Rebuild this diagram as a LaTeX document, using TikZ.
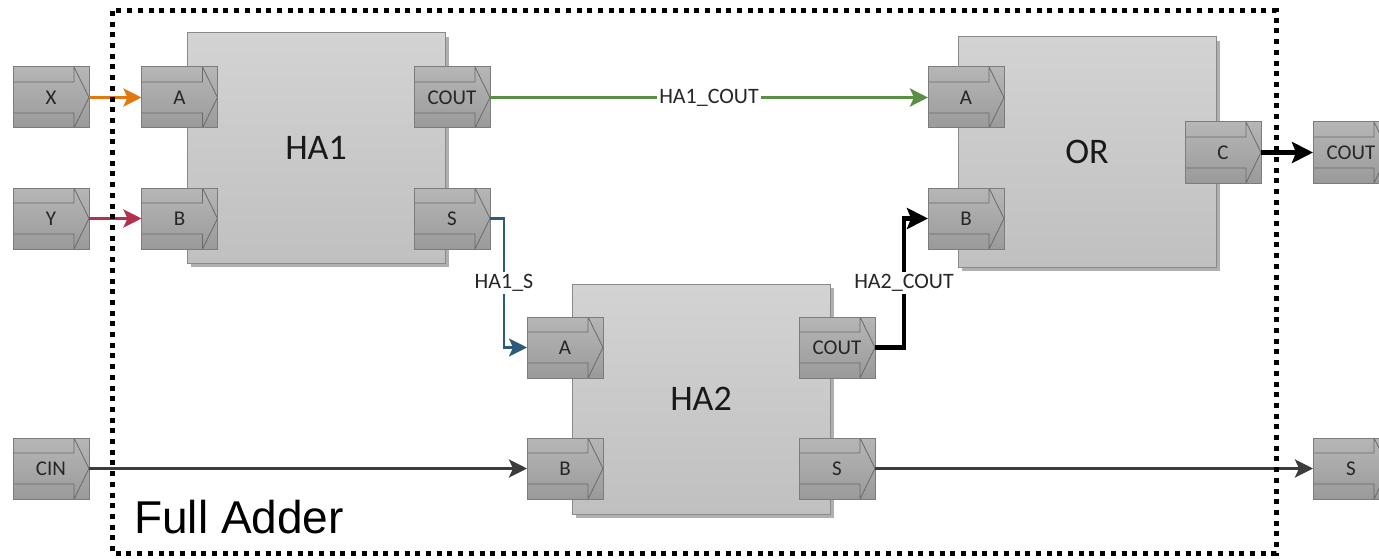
\documentclass[tikz,border=0pt]{standalone}
\usepackage{fontspec}
\setmainfont{Carlito}
\newfontfamily\arialf{Liberation Sans}
\usetikzlibrary{arrows.meta,shadows,calc}
\definecolor{wireorange}{HTML}{E07A10}
\definecolor{wirecrimson}{HTML}{B5304F}
\definecolor{wiregreen}{HTML}{5A8F45}
\definecolor{wireblue}{HTML}{2E5B7A}
\definecolor{wiregrey}{HTML}{3C3C3C}
\definecolor{blocktop}{HTML}{D3D3D3}
\definecolor{blockbot}{HTML}{C0C0C0}
\definecolor{blockborder}{HTML}{8A8A8A}
\definecolor{shadowgray}{HTML}{B0B0B0}
\definecolor{porttop}{HTML}{B6B6B6}
\definecolor{portbot}{HTML}{9A9A9A}
\definecolor{portborder}{HTML}{7C7C7C}
\definecolor{portline}{HTML}{6A6A6A}
\begin{document}
\begin{tikzpicture}[x=1pt,y=-1pt,
  block/.style={draw=blockborder, line width=1pt, top color=blocktop, bottom color=blockbot,
    minimum width=258pt, minimum height=230pt, inner sep=0pt, outer sep=0pt,
    general shadow={fill=shadowgray, shadow xshift=4pt, shadow yshift=-4pt},
    font=\fontsize{36}{42}\selectfont, text=black!90},
  port/.style={draw=portborder, line width=1pt, top color=porttop, bottom color=portbot,
    minimum width=76pt, minimum height=61pt, inner sep=0pt, outer sep=0pt,
    font=\fontsize{21}{25}\selectfont, text=black!85,
    path picture={
      \draw[portline, line width=0.8pt]
        ([yshift=-15pt]path picture bounding box.north west)
        -- ([xshift=-15pt,yshift=-15pt]path picture bounding box.north east)
        -- ([xshift=-15pt]path picture bounding box.north east)
        -- (path picture bounding box.east)
        -- ([xshift=-15pt]path picture bounding box.south east)
        -- ([xshift=-15pt,yshift=15pt]path picture bounding box.south east)
        -- ([yshift=15pt]path picture bounding box.south west);
    }},
  netlabel/.style={fill=white, inner sep=2pt, font=\fontsize{22}{26}\selectfont, text=black!85},
  wire/.style={-{Stealth[length=18pt,width=18pt,inset=4pt]}},
  thickwire/.style={line width=4.5pt, black, -{Stealth[length=21pt,width=21pt,inset=4pt]}},
  frame/.style={line width=5pt, dash pattern=on 5pt off 5.7pt, black}
]
\useasboundingbox (0,0) rectangle (1379,559);

% blocks
\node[block] (ha1) at (316,148) {HA1};
\node[block] (ha2) at (701,399) {HA2};
\node[block] (or)  at (1087,152) {OR};

% external ports
\node[port] (x)   at (51,97.5)  {X};
\node[port] (y)   at (51,218.5) {Y};
\node[port] (cin) at (51,468.5) {CIN};
\node[port] (outcout) at (1351,152.5) {COUT};
\node[port] (outs)    at (1351,468.5) {S};

% block ports
\node[port] (ha1a)    at (179.5,97.5)  {A};
\node[port] (ha1b)    at (179.5,218.5) {B};
\node[port] (ha1cout) at (452,97.5)    {COUT};
\node[port] (ha1s)    at (452,218.5)   {S};
\node[port] (ha2a)    at (565,347.5)   {A};
\node[port] (ha2b)    at (565,468.5)   {B};
\node[port] (ha2cout) at (837,347.5)   {COUT};
\node[port] (ha2s)    at (837,468.5)   {S};
\node[port] (ora)     at (966,97.5)    {A};
\node[port] (orb)     at (966,218.5)   {B};
\node[port] (orc)     at (1223,152.5)  {C};

% wires
\draw[wire, wireorange, line width=3pt] (x.east) -- (ha1a.west);
\draw[wire, wirecrimson, line width=3pt] (y.east) -- (ha1b.west);
\draw[wire, wiregreen, line width=3.5pt] (ha1cout.east) -- node[netlabel]{HA1\_COUT} (ora.west);
\draw[wire, wireblue, line width=2.5pt] (ha1s.east) -- ++(14,0) |- node[netlabel, pos=0.25]{HA1\_S} (ha2a.west);
\draw[thickwire] (ha2cout.east) -- ++(29,0) |- node[netlabel, pos=0.25]{HA2\_COUT} (orb.west);
\draw[thickwire] (orc.east) -- (outcout.west);
\draw[wire, wiregrey, line width=3pt] (cin.east) -- (ha2b.west);
\draw[wire, wiregrey, line width=3pt] (ha2s.east) -- (outs.west);

% frame
\draw[frame] (112,11) rectangle (1276,553);
\node[anchor=base west, font=\arialf\fontsize{46}{52}\selectfont, inner sep=0pt] (title) at (134,533) {Full Adder};
\end{tikzpicture}
\end{document}
